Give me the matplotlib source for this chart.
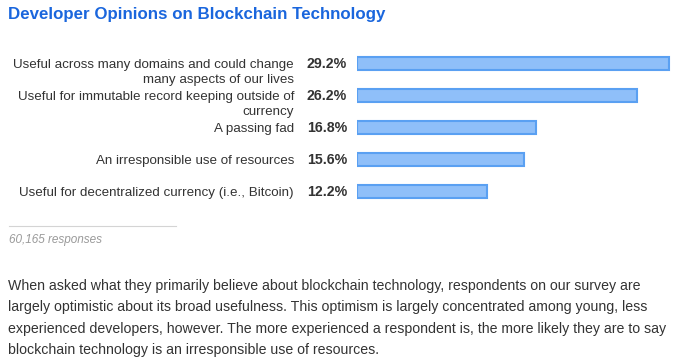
import matplotlib
matplotlib.use("Agg")
import matplotlib.pyplot as plt
from matplotlib.lines import Line2D
from matplotlib.transforms import offset_copy

plt.rcParams['font.family'] = ['Liberation Sans', 'DejaVu Sans']

title = "Developer Opinions on Blockchain Technology"
categories = [
    "Useful across many domains and could change\nmany aspects of our lives",
    "Useful for immutable record keeping outside of\ncurrency",
    "A passing fad",
    "An irresponsible use of resources",
    "Useful for decentralized currency (i.e., Bitcoin)",
]
values = [29.2, 26.2, 16.8, 15.6, 12.2]
responses_note = "60,165 responses"
paragraph = ("When asked what they primarily believe about blockchain technology, respondents on our survey are\n"
             "largely optimistic about its broad usefulness. This optimism is largely concentrated among young, less\n"
             "experienced developers, however. The more experienced a respondent is, the more likely they are to say\n"
             "blockchain technology is an irresponsible use of resources.")

W, H = 676, 364
fig = plt.figure(figsize=(W / 100, H / 100), dpi=100)
fig.patch.set_facecolor("white")

def fx(px):
    return px / W

def fy(py):
    return 1 - py / H

# bar axes
x0, xmax = 357, 30.0
pxper = 10.68
ytop, slot = 47.5, 32.0
ax = fig.add_axes([fx(x0), fy(ytop + slot * len(values)), (xmax * pxper) / W, slot * len(values) / H])
ax.set_xlim(0, xmax)
ax.set_ylim(len(values) - 0.5, -0.5)
ax.axis("off")

ypos = list(range(len(values)))
ax.barh(ypos, values, height=0.40, color="#8fbff9", edgecolor="#5aa0f2", linewidth=1.5)

base = ax.get_yaxis_transform()
tr_top = offset_copy(base, fig=fig, x=0, y=4.3, units="dots")
tr_base = offset_copy(base, fig=fig, x=0, y=-5.0, units="dots")
lab_x = (294 - x0) / (xmax * pxper)
pct_x = (347 - x0) / (xmax * pxper)
for y, cat, v in zip(ypos, categories, values):
    ax.text(lab_x, y, cat, transform=tr_top, ha="right", va="top",
            fontsize=9.6, color="#333333", linespacing=1.28, clip_on=False)
    ax.text(pct_x, y, f"{v:.1f}%", transform=tr_base, ha="right", va="baseline",
            fontsize=10.2, color="#333333", fontweight="bold", clip_on=False)

fig.text(fx(8), fy(15), title, ha="left", va="center", fontsize=12.2,
         fontweight="bold", color="#1a66dd")

fig.add_artist(Line2D([fx(9), fx(176)], [fy(226), fy(226)], color="#d4d4d4", linewidth=0.8))
fig.text(fx(9), fy(240), responses_note, ha="left", va="center", fontsize=8.45,
         style="italic", color="#9a9a9a")

fig.text(fx(8), fy(279), paragraph, ha="left", va="top", fontsize=10.2,
         color="#333333", linespacing=1.68)

fig.savefig("out.png", dpi=100, facecolor="white")
